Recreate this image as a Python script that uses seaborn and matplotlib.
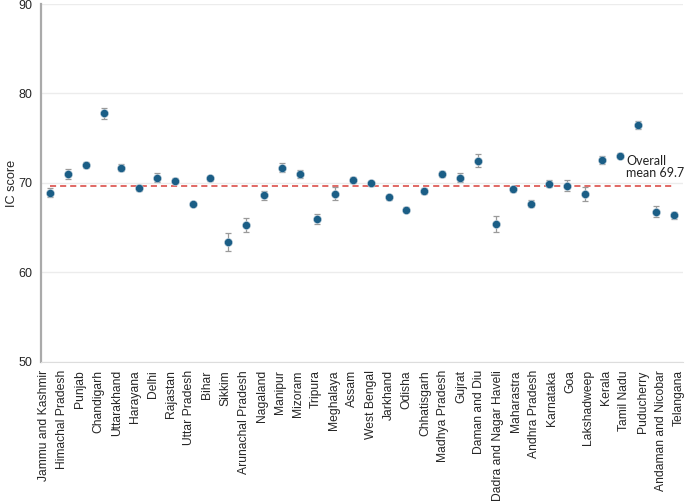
import matplotlib
matplotlib.use("Agg")
import matplotlib.pyplot as plt
import seaborn as sns
import pandas as pd

states = ["Jammu and Kashmir", "Himachal Pradesh", "Punjab", "Chandigarh", "Uttarakhand",
          "Harayana", "Delhi", "Rajastan", "Uttar Pradesh", "Bihar", "Sikkim",
          "Arunachal Pradesh", "Nagaland", "Manipur", "Mizoram", "Tripura", "Meghalaya",
          "Assam", "West Bengal", "Jarkhand", "Odisha", "Chhatisgarh", "Madhya Pradesh",
          "Gujrat", "Daman and Diu", "Dadra and Nagar Haveli", "Maharastra", "Andhra Pradesh",
          "Karnataka", "Goa", "Lakshadweep", "Kerala", "Tamil Nadu", "Puducherry",
          "Andaman and Nicobar", "Telangana"]
scores = [68.9, 71.0, 72.0, 77.8, 71.7, 69.45, 70.6, 70.25, 67.7, 70.5, 63.4,
          65.3, 68.6, 71.7, 71.0, 66.0, 68.8, 70.35, 69.95, 68.4, 67.0, 69.1, 71.0,
          70.6, 72.5, 65.4, 69.3, 67.7, 69.9, 69.7, 68.8, 72.6, 73.05, 76.5, 66.8, 66.4]
err = [0.5, 0.6, 0.35, 0.6, 0.4, 0.35, 0.5, 0.3, 0.2, 0.3, 1.0,
       0.8, 0.45, 0.5, 0.4, 0.55, 0.7, 0.35, 0.3, 0.3, 0.3, 0.35, 0.3,
       0.5, 0.7, 0.9, 0.3, 0.35, 0.4, 0.6, 0.8, 0.45, 0.25, 0.45, 0.65, 0.4]
overall_mean = 69.7
yticks = [50, 60, 70, 80, 90]

idx = list(range(len(states)))
df = pd.DataFrame({"idx": idx, "state": states, "score": scores, "err": err})

sns.set_style("white")
plt.rcParams["font.family"] = ["Liberation Sans", "DejaVu Sans"]

fig = plt.figure(figsize=(6.85, 5.04), dpi=100)
ax = fig.add_axes([0.060, 0.282, 0.937, 0.710])

for y in yticks:
    ax.axhline(y, color="#ececec", lw=1.0, zorder=0)

ax.errorbar(df["idx"], df["score"], yerr=df["err"], fmt="none", ecolor="#9a9a9a",
            elinewidth=0.9, capsize=2.5, capthick=0.9, zorder=2)
sns.scatterplot(data=df, x="idx", y="score", ax=ax, color="#1b5e86", s=34,
                edgecolor="#c8d6e0", linewidth=0.4, zorder=3, legend=False)

ax.hlines(overall_mean, idx[0], idx[-1], colors="#d9403a", linestyles=(0, (4, 2.6)),
          lw=1.1, zorder=1)
ax.text(32.35, 71.8, "Overall\nmean 69.7", fontsize=9, va="center", ha="left",
        family=["Lato", "DejaVu Sans"], color="#222222", linespacing=1.05)

ax.set_xlim(-0.505, 35.52)
ax.set_ylim(50, 90)
ax.set_yticks(yticks)
# category labels sit on a slightly wider grid than the markers (as in the reference)
tick_pos = [-0.337 + 1.018 * i for i in idx]
ax.set_xticks(tick_pos)
ax.set_xticklabels(states, rotation=90, fontsize=8.7)
ax.tick_params(axis="y", labelsize=9, length=4, width=0.8, color="#888888", pad=2)
ax.tick_params(axis="x", length=4, width=0.8, color="#888888", pad=2)
ax.set_xlabel("")
ax.set_ylabel("IC score", fontsize=9.2, labelpad=0.5)

for s in ["top", "right"]:
    ax.spines[s].set_visible(False)
ax.spines["left"].set_color("#aaaaaa")
ax.spines["left"].set_linewidth(1.6)
ax.spines["bottom"].set_color("#dddddd")
ax.spines["bottom"].set_linewidth(0.8)

fig.savefig("out.png", dpi=100)
